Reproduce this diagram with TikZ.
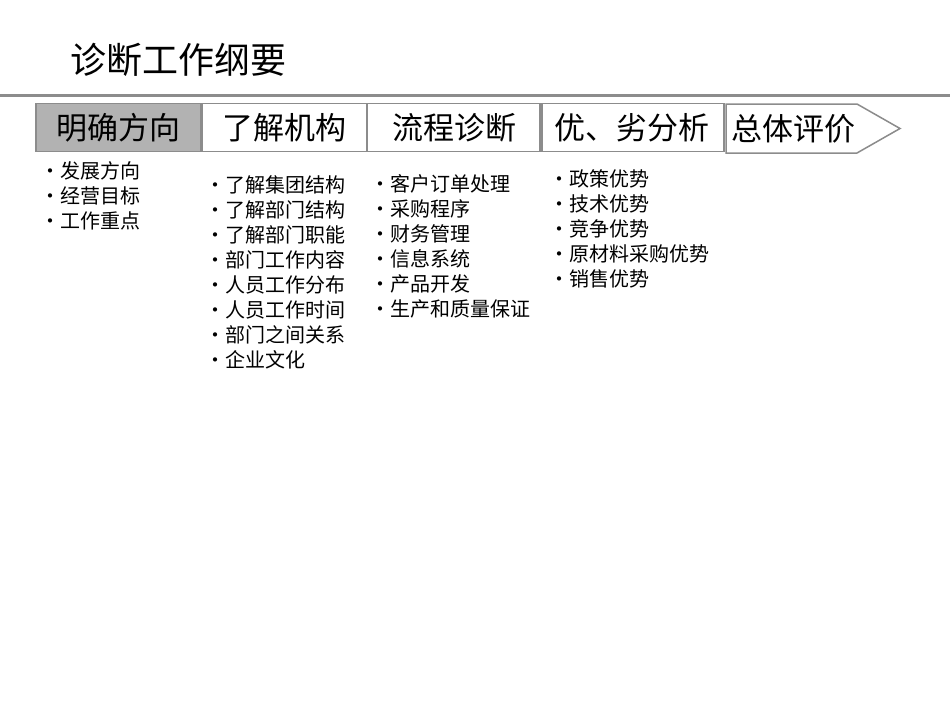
\documentclass[tikz,border=0pt]{standalone}
\usepackage{fontspec}
\setmainfont{Noto Sans CJK SC}
\definecolor{linegray}{HTML}{8C8C8C}
\definecolor{boxgray}{HTML}{B2B2B2}
\tikzset{
  stepbox/.style={draw=linegray,line width=1.5pt,minimum width=#1,minimum height=48,inner sep=0pt,font=\fontsize{31}{33}\selectfont},
  item/.style={anchor=west,inner sep=0pt,font=\fontsize{20}{22}\selectfont}
}
\begin{document}
\begin{tikzpicture}
  [x=1pt,y=-1pt]
  \useasboundingbox[fill=white] (0,0) rectangle (950,713);
  % title and rule
  \node[anchor=west,font=\fontsize{36}{38}\selectfont] (title) at (67,60) {诊断工作纲要};
  \draw[linegray,line width=3pt] (0,95) -- (950,95);
  % steps
  \node[stepbox=165,fill=boxgray] (s1) at (118.5,127.5) {明确方向};
  \node[stepbox=165] (s2) at (284.5,127.5) {了解机构};
  \node[stepbox=175] (s3) at (454.5,127.5) {流程诊断};
  \node[stepbox=184] (s4) at (632,127.5) {优、劣分析};
  \draw[linegray,line width=1.5pt] (726,104) -- (857,104) -- (900,128.5) -- (857,153) -- (726,153) -- cycle;
  \node[anchor=west,inner sep=0pt,font=\fontsize{31}{33}\selectfont] (s5) at (731,128.5) {总体评价};
  % lists
  \foreach \t [count=\i] in {发展方向,经营目标,工作重点}
    \node[item] (a\i) at (40,171+25*\i-25) {•\t};
  \foreach \t [count=\i] in {了解集团结构,了解部门结构,了解部门职能,部门工作内容,人员工作分布,人员工作时间,部门之间关系,企业文化}
    \node[item] (b\i) at (205,185+25*\i-25) {•\t};
  \foreach \t [count=\i] in {客户订单处理,采购程序,财务管理,信息系统,产品开发,生产和质量保证}
    \node[item] (c\i) at (370,184+25*\i-25) {•\t};
  \foreach \t [count=\i] in {政策优势,技术优势,竞争优势,原材料采购优势,销售优势}
    \node[item] (d\i) at (549,179+25*\i-25) {•\t};
\end{tikzpicture}
\end{document}
